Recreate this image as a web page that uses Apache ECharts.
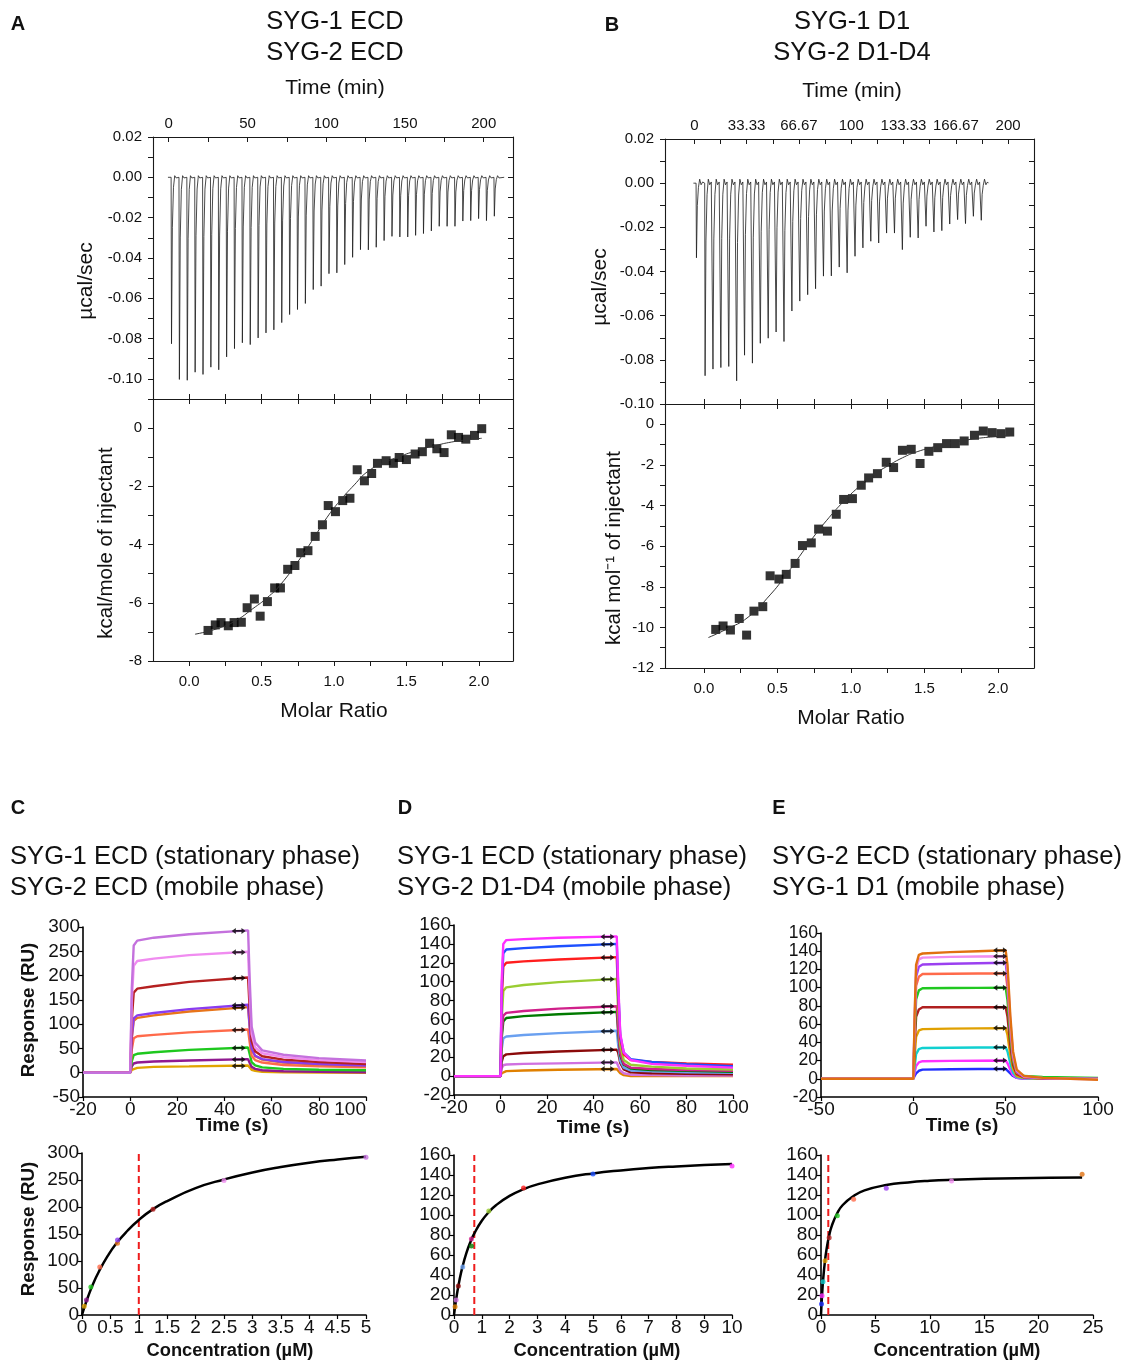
<!DOCTYPE html>
<html><head><meta charset="utf-8">
<script src="https://cdn.jsdelivr.net/npm/echarts@6/dist/echarts.min.js"></script>
<style>html,body{margin:0;padding:0;background:#fff}#c{width:1127px;height:1360px}</style>
</head><body><div id="c"></div>
<script>
const FONT = '"Liberation Sans", Arial, Helvetica, sans-serif';

// ================= Panel A : ITC, SYG-1 ECD / SYG-2 ECD =================
const A_timeLabels = [0, 50, 100, 150, 200];
const A_timeTicks = [0, 25, 50, 75, 100, 125, 150, 175, 200];
const A_powerLabels = [0.02, 0, -0.02, -0.04, -0.06, -0.08, -0.10];
const A_powerTicks = [0.02, 0.01, 0, -0.01, -0.02, -0.03, -0.04, -0.05, -0.06, -0.07, -0.08, -0.09, -0.10];
const A_firstInjection = 1.5, A_injectionSpacing = 5;
const A_peakDepths = [-0.0826, -0.1003, -0.1007, -0.0967, -0.0978, -0.0942, -0.0955, -0.0891, -0.0850, -0.0821,
  -0.0830, -0.0797, -0.0772, -0.0757, -0.0721, -0.0681, -0.0656, -0.0626, -0.0557, -0.0540,
  -0.0478, -0.0474, -0.0433, -0.0397, -0.0359, -0.0360, -0.0347, -0.0314, -0.0293, -0.0296,
  -0.0296, -0.0288, -0.0279, -0.0266, -0.0243, -0.0243, -0.0243, -0.0217, -0.0215, -0.0205,
  -0.0215, -0.0193];
const A_heatLabels = [0, -2, -4, -6, -8];
const A_heatTicks = [1, 0, -1, -2, -3, -4, -5, -6, -7, -8];
const A_molarLabels = [0, 0.5, 1, 1.5, 2];
const A_molarTicks = [0, 0.25, 0.5, 0.75, 1, 1.25, 1.5, 1.75, 2];
const A_molar = [0.13,0.18,0.22,0.27,0.31,0.36,0.40,0.45,0.49,0.54,0.59,0.63,0.68,0.73,0.77,0.82,0.87,0.92,0.96,1.01,
  1.06,1.11,1.16,1.21,1.26,1.30,1.36,1.41,1.45,1.50,1.56,1.61,1.66,1.71,1.76,1.81,1.86,1.91,1.97,2.02];
const A_heat = [-6.95,-6.76,-6.68,-6.79,-6.68,-6.67,-6.17,-5.87,-6.46,-5.96,-5.49,-5.49,-4.85,-4.72,-4.28,-4.21,-3.72,-3.32,-2.66,-2.87,
  -2.49,-2.41,-1.43,-1.81,-1.56,-1.21,-1.12,-1.21,-1.01,-1.08,-0.89,-0.81,-0.52,-0.71,-0.84,-0.23,-0.32,-0.38,-0.25,-0.02];
const A_fitMolar = [0.04, 0.2, 0.32, 0.44, 0.54, 0.63, 0.77, 0.86, 0.95, 1.04, 1.14, 1.23, 1.34, 1.45, 1.58, 1.7, 1.81, 1.92, 2.02];
const A_fitHeat = [-7.08, -6.88, -6.62, -6.2, -5.82, -5.38, -4.45, -3.78, -3.08, -2.5, -1.95, -1.5, -1.2, -0.98, -0.76, -0.6, -0.48, -0.4, -0.35];

// ================= Panel B : ITC, SYG-1 D1 / SYG-2 D1-D4 =================
const B_timeLabels = [0, 33.3333, 66.6667, 100, 133.3333, 166.6667, 200];
const B_timeTicks = [0, 16.6667, 33.3333, 50, 66.6667, 83.3333, 100, 116.6667, 133.3333, 150, 166.6667, 183.3333, 200];
const B_powerLabels = [0.02, 0, -0.02, -0.04, -0.06, -0.08, -0.10];
const B_powerTicks = [0.02, 0.01, 0, -0.01, -0.02, -0.03, -0.04, -0.05, -0.06, -0.07, -0.08, -0.09, -0.10];
const B_firstInjection = 1.1, B_secondInjection = 6.6, B_injectionSpacing = 5.03;
const B_peakDepths = [-0.0338, -0.0872, -0.0842, -0.0835, -0.0830, -0.0895, -0.0779, -0.0815, -0.0725, -0.0702,
  -0.0674, -0.0717, -0.0579, -0.0534, -0.0505, -0.0478, -0.0421, -0.0420, -0.0380, -0.0406,
  -0.0331, -0.0293, -0.0263, -0.0271, -0.0226, -0.0226, -0.0301, -0.0245, -0.0248, -0.0195,
  -0.0221, -0.0215, -0.0185, -0.0165, -0.0183, -0.0150, -0.0168];
const B_heatLabels = [0, -2, -4, -6, -8, -10, -12];
const B_heatTicks = [1, 0, -1, -2, -3, -4, -5, -6, -7, -8, -9, -10, -11, -12];
const B_molarLabels = [0, 0.5, 1, 1.5, 2];
const B_molarTicks = [0, 0.25, 0.5, 0.75, 1, 1.25, 1.5, 1.75, 2];
const B_molar = [0.08,0.13,0.18,0.24,0.29,0.34,0.40,0.45,0.51,0.56,0.62,0.67,0.73,0.78,0.84,0.90,0.95,1.01,1.07,1.12,
  1.18,1.24,1.29,1.35,1.41,1.47,1.53,1.59,1.65,1.71,1.77,1.84,1.90,1.96,2.02,2.08];
const B_heat = [-10.10,-9.93,-10.13,-9.56,-10.38,-9.20,-8.98,-7.46,-7.62,-7.39,-6.85,-5.97,-5.84,-5.16,-5.26,-4.43,-3.70,-3.66,-3.00,-2.64,
  -2.43,-1.87,-2.13,-1.28,-1.23,-1.93,-1.33,-1.15,-0.95,-0.95,-0.82,-0.54,-0.33,-0.41,-0.46,-0.38];
const B_fitMolar = [0.03, 0.15, 0.3, 0.45, 0.55, 0.65, 0.75, 0.85, 0.95, 1.05, 1.15, 1.25, 1.35, 1.45, 1.6, 1.75, 1.9, 2.08];
const B_fitHeat = [-10.5, -10.1, -9.5, -8.4, -7.5, -6.5, -5.5, -4.6, -3.8, -3.1, -2.5, -2.05, -1.65, -1.35, -1.05, -0.82, -0.66, -0.56];

// ================= Panel C : SPR, SYG-1 ECD / SYG-2 ECD =================
const C_time = [-20, 0, 0.7, 1.5, 3, 10, 25, 50, 50.7, 51.5, 53, 56, 65, 80, 100];
const C_colors = ['#e0a400', '#901a90', '#1ec81e', '#ff6a4a', '#e8751a', '#8a3cf0', '#b52020', '#f08cf0', '#c471dd'];
const C_curves = [
  [0, 0, 6, 9, 10, 12, 13, 15, 11, 6, 4, 2, 1, 0.5, 0],
  [0, 0, 13, 19, 21, 23, 25, 28, 20, 12, 8, 5, 3, 2, 1],
  [0, 0, 24, 36, 39, 42, 47, 52, 38, 22, 15, 11, 8, 6, 5],
  [0, 0, 48, 71, 75, 78, 83, 89, 62, 35, 26, 21, 16, 13, 11],
  [0, 0, 72, 107, 113, 118, 126, 135, 92, 48, 34, 27, 21, 17, 14],
  [0, 0, 75, 112, 118, 123, 131, 140, 95, 50, 35, 28, 22, 18, 15],
  [0, 0, 110, 165, 173, 178, 187, 196, 130, 65, 44, 34, 27, 22, 18],
  [0, 0, 150, 220, 230, 235, 242, 249, 160, 80, 52, 40, 32, 26, 22],
  [0, 0, 175, 262, 272, 278, 285, 293, 190, 95, 62, 46, 37, 30, 25]
];
const C_arrowTime = 46;
const C_arrowLevels = [14, 27, 51, 88, 134, 139, 195, 248, 292];
const C_conc = [0.039, 0.078, 0.156, 0.3125, 0.625, 0.625, 1.25, 2.5, 5];
const C_resp = [16, 28, 52, 89, 133, 139, 196, 249, 292];
const C_fitConc = [0, 0.05, 0.1, 0.2, 0.3, 0.45, 0.6, 0.8, 1.0, 1.25, 1.5, 2.0, 2.5, 3.0, 3.5, 4.0, 4.5, 5.0];
const C_fitResp = [0, 17, 32, 59, 81, 109, 132, 156, 176, 196, 211, 235, 251, 264, 274, 282, 288, 293];
const C_kd = 1.0, C_kdTop = 300;

// ================= Panel D : SPR, SYG-1 ECD / SYG-2 D1-D4 =================
const D_time = [-20, 0, 0.5, 1.2, 2.5, 10, 25, 50, 50.6, 51.5, 53, 56, 65, 80, 100];
const D_colors = ['#e08000', '#d070e0', '#8b0a0a', '#6aa0f0', '#007a00', '#d0208a', '#9acd32', '#ff1e1e', '#1e50ff', '#ff30ff'];
const D_curves = [
  [0, 0, 3, 5, 5.3, 6, 6.8, 7.5, 6, 3, 1, 0, 0, 0, 0],
  [0, 0, 8, 11.5, 12.3, 13, 13.5, 14.5, 11, 6, 3, 1.5, 1, 0.5, 0.5],
  [0, 0, 15, 21, 23, 24.5, 26, 28, 25, 14, 7, 4, 3, 2.5, 2],
  [0, 0, 28, 40, 42, 43.5, 45.5, 48, 33, 16, 9, 6, 5, 4, 3.5],
  [0, 0, 40, 58, 61.5, 63.5, 65.5, 68, 47, 22, 12, 8, 6.5, 5.5, 4.5],
  [0, 0, 45, 64, 67, 69, 71.5, 74, 50, 24, 13, 9, 7.5, 6.5, 5.5],
  [0, 0, 60, 90, 94, 96.5, 99.5, 103, 70, 33, 17, 12, 10, 8, 7],
  [0, 0, 80, 116, 120, 121.5, 123.5, 126, 85, 40, 23, 17, 15, 13.5, 12],
  [0, 0, 90, 130, 134, 135.5, 137.5, 140, 95, 43, 25, 18, 15, 12.5, 10.5],
  [0, 0, 100, 140, 144, 145, 146.5, 148, 100, 45, 25, 17, 13, 11, 9]
];
const D_arrowTime = 46;
const D_arrowLevels = [7.5, 14.5, 28, 47.5, 67.5, 74, 102.5, 125.5, 139.5, 147.5];
const D_conc = [0.039, 0.078, 0.156, 0.3125, 0.625, 0.625, 1.25, 2.5, 5, 10];
const D_resp = [8.3, 15, 29, 48, 69, 76, 104, 127, 141, 149];
const D_fitConc = [0, 0.05, 0.1, 0.2, 0.3, 0.45, 0.6, 0.75, 1.0, 1.25, 1.5, 2, 2.5, 3, 4, 5, 6, 7, 8, 9, 10];
const D_fitResp = [0, 10.5, 19.8, 35.2, 47.6, 62.3, 73.6, 82.6, 94.2, 102.8, 109.5, 119.1, 125.8, 130.6, 137.3, 141.6, 144.6, 146.9, 148.6, 150, 151.1];
const D_kd = 0.73, D_kdTop = 160;

// ================= Panel E : SPR, SYG-2 ECD / SYG-1 D1 =================
const E_time = [-50, 0, 0.7, 1.5, 3, 5, 20, 35, 50, 51, 52.5, 54, 56, 60, 70, 85, 100];
const E_colors = ['#2030ff', '#ff30ff', '#10d0d0', '#e0a000', '#b02020', '#20c820', '#ff6a4a', '#9b40f0', '#f08cf0', '#e07010'];
const E_curves = [
  [0, 0, 3, 6, 8.8, 10, 10.4, 10.7, 10.9, 10, 6, 3, 1, 0, 0, 0, 0],
  [0, 0, 7, 14, 18, 19.3, 19.6, 19.8, 20, 17, 10, 4, 1, 0, 0, 0, 0],
  [0, 0, 13, 27, 32.5, 33.8, 34.1, 34.3, 34.5, 30, 17, 7, 2, 0.5, 0, 0, 0],
  [0, 0, 24, 46, 53, 54.5, 55, 55.3, 55.6, 48, 26, 11, 3, 1, 0, 0, 0],
  [0, 0, 35, 68, 76, 78.5, 78.5, 78.5, 78.5, 68, 37, 15, 5, 1.5, 0.5, 0, 0],
  [0, 0, 46, 87, 97, 99.3, 99.6, 99.8, 100, 86, 47, 19, 7, 3, 2, 1.5, 1],
  [0, 0, 55, 102, 112, 115, 115.3, 115.5, 115.6, 100, 55, 22, 7, 2, 0.5, 0, 0],
  [0, 0, 60, 112, 123, 125.5, 126.3, 126.8, 127.3, 110, 60, 25, 8, 2, 0.5, 0, 0],
  [0, 0, 66, 120, 131, 133, 133.8, 134.2, 134.5, 118, 65, 27, 9, 2.5, 1, 0, -0.5],
  [0, 0, 70, 125, 136, 137.5, 139, 140, 141, 125, 70, 30, 10, 3, 1, 0, -1]
];
const E_arrowTime = 47;
const E_arrowLevels = [10.9, 20, 34.5, 55.6, 78.5, 100, 115.6, 127.3, 134.5, 141];
const E_conc = [0.047, 0.094, 0.1875, 0.375, 0.75, 1.5, 3, 6, 12, 24];
const E_resp = [11, 19.3, 33.3, 54.3, 77.3, 99.3, 115.7, 126.7, 134, 140.7];
const E_fitConc = [0, 0.05, 0.1, 0.2, 0.35, 0.5, 0.75, 1.0, 1.5, 2, 3, 4, 6, 8, 10, 12, 15, 18, 21, 24];
const E_fitResp = [0, 11, 20.4, 35.7, 52.7, 65, 79.4, 89.4, 102, 110, 119, 124.6, 130, 132.6, 134.2, 135.2, 136.2, 136.8, 137.2, 137.5];
const E_kd = 0.67, E_kdTop = 160;

// ================= builders =================
const grids = [], xAxis = [], yAxis = [], series = [], graphic = [];
function addGrid(left, top, width, height) {
  grids.push({ left, top, width, height, containLabel: false, outerBoundsMode: 'none' });
  return grids.length - 1;
}
function push(list, cfg) { list.push(cfg); return list.length - 1; }

function itcAxis(gi, position, min, max, ticks, inside, labels, fmt, margin) {
  return {
    type: 'value', gridIndex: gi, position, min, max,
    axisLine: { show: true, onZero: false, lineStyle: { color: '#1a1a1a', width: 1.1 } },
    axisTick: { show: true, inside, length: 5, customValues: ticks, lineStyle: { color: '#1a1a1a', width: 1 } },
    axisLabel: labels ? { show: true, customValues: labels, formatter: fmt, fontFamily: FONT, fontSize: 15, color: '#111', margin: margin || 7 } : { show: false },
    splitLine: { show: false }, axisPointer: { show: false }
  };
}
const fmt2 = v => v.toFixed(2);
const fmt1 = v => v.toFixed(1);
const fmtInt = v => String(Math.round(v));
const fmtTimeB = v => Math.abs(v - Math.round(v)) < 1e-3 ? String(Math.round(v)) : v.toFixed(2);

function thermo(times, depths, tStart, tEnd, bump) {
  const d = [[tStart, 0]];
  depths.forEach((p, i) => {
    const t = times[i];
    d.push([t, 0], [t + 0.25, p], [t + 0.8, p * 0.3], [t + 1.5, p * 0.06], [t + 2.3, bump], [t + 3.2, -bump * 0.4], [t + 4.2, bump * 0.3]);
  });
  d.push([tEnd, 0]);
  return d;
}

function buildITC(cfg) {
  const gTop = addGrid(cfg.left, cfg.top, cfg.width, cfg.hTop);
  const gBot = addGrid(cfg.left, cfg.top + cfg.hTop, cfg.width, cfg.hBot);
  const xTime = push(xAxis, itcAxis(gTop, 'top', cfg.tMin, cfg.tMax, cfg.timeTicks, true, cfg.timeLabels, cfg.timeFmt, 6));
  push(xAxis, itcAxis(gTop, 'bottom', cfg.mMin, cfg.mMax, cfg.molarTicks, true, null));
  const yPow = push(yAxis, itcAxis(gTop, 'left', cfg.pMin, cfg.pMax, cfg.powerTicks, false, cfg.powerLabels, fmt2, 11));
  push(yAxis, itcAxis(gTop, 'right', cfg.pMin, cfg.pMax, cfg.powerTicks, true, null));
  const xMol = push(xAxis, itcAxis(gBot, 'bottom', cfg.mMin, cfg.mMax, cfg.molarTicks, false, cfg.molarLabels, fmt1, 13));
  push(xAxis, itcAxis(gBot, 'top', cfg.mMin, cfg.mMax, cfg.molarTicks, true, null));
  const yHeat = push(yAxis, itcAxis(gBot, 'left', cfg.hMin, cfg.hMax, cfg.heatTicks, false, cfg.heatLabels, fmtInt, 11));
  push(yAxis, itcAxis(gBot, 'right', cfg.hMin, cfg.hMax, cfg.heatTicks, true, null));

  series.push({ type: 'line', xAxisIndex: xTime, yAxisIndex: yPow, showSymbol: false, silent: true,
    data: thermo(cfg.times, cfg.depths, cfg.tStart, cfg.tEnd, cfg.bump),
    lineStyle: { color: '#1c1c1c', width: 0.8 } });
  series.push({ type: 'line', xAxisIndex: xMol, yAxisIndex: yHeat, showSymbol: false, smooth: true, silent: true,
    data: cfg.fitX.map((x, i) => [x, cfg.fitY[i]]), lineStyle: { color: '#333', width: 1 } });
  series.push({ type: 'scatter', xAxisIndex: xMol, yAxisIndex: yHeat, symbol: 'rect', symbolSize: 9, silent: true,
    data: cfg.molar.map((x, i) => [x, cfg.heat[i]]), itemStyle: { color: '#000' } });
}

buildITC({
  left: 153, top: 137, width: 360, hTop: 262, hBot: 262,
  tMin: -10, tMax: 218.6, mMin: -0.25, mMax: 2.236, pMin: -0.11, pMax: 0.02, hMin: -8, hMax: 1,
  timeTicks: A_timeTicks, timeLabels: A_timeLabels, timeFmt: fmtInt,
  molarTicks: A_molarTicks, molarLabels: A_molarLabels,
  powerTicks: A_powerTicks, powerLabels: A_powerLabels,
  heatTicks: A_heatTicks, heatLabels: A_heatLabels,
  times: A_peakDepths.map((_, i) => A_firstInjection + A_injectionSpacing * i),
  depths: A_peakDepths, tStart: -0.5, tEnd: 213, bump: 0.0008,
  molar: A_molar, heat: A_heat, fitX: A_fitMolar, fitY: A_fitHeat
});
buildITC({
  left: 665, top: 139, width: 369, hTop: 265, hBot: 264,
  tMin: -18.7, tMax: 216.5, mMin: -0.265, mMax: 2.245, pMin: -0.10, pMax: 0.02, hMin: -12, hMax: 1,
  timeTicks: B_timeTicks, timeLabels: B_timeLabels, timeFmt: fmtTimeB,
  molarTicks: B_molarTicks, molarLabels: B_molarLabels,
  powerTicks: B_powerTicks, powerLabels: B_powerLabels,
  heatTicks: B_heatTicks, heatLabels: B_heatLabels,
  times: B_peakDepths.map((_, i) => i === 0 ? B_firstInjection : B_secondInjection + B_injectionSpacing * (i - 1)),
  depths: B_peakDepths, tStart: -0.6, tEnd: 187.4, bump: 0.0018,
  molar: B_molar, heat: B_heat, fitX: B_fitMolar, fitY: B_fitHeat
});

function sprAxis(gi, position, min, max, interval, alignMax, fontSize) {
  const lab = { fontFamily: FONT, fontSize: fontSize || 19, color: '#111', margin: 3, interval: 0, hideOverlap: false,
    showMinLabel: true, showMaxLabel: true };
  if (alignMax) lab.alignMaxLabel = 'right';
  return {
    type: 'value', gridIndex: gi, position, min, max, interval,
    axisLine: { show: true, onZero: false, lineStyle: { color: '#000', width: 1.6 } },
    axisTick: { show: true, inside: false, length: 4, lineStyle: { color: '#000', width: 1.2 } },
    axisLabel: lab,
    splitLine: { show: false }, axisPointer: { show: false }
  };
}
const ARROW = 'path://M0,5L6,0L6,3.5L14,3.5L14,0L20,5L14,10L14,6.5L6,6.5L6,10Z';

function buildSPR(cfg) {
  const gT = addGrid(cfg.top.left, cfg.top.top, cfg.top.width, cfg.top.height);
  const gB = addGrid(cfg.bot.left, cfg.bot.top, cfg.bot.width, cfg.bot.height);
  const xt = push(xAxis, sprAxis(gT, 'bottom', cfg.top.xMin, cfg.top.xMax, cfg.top.xInt, cfg.top.alignMax));
  const yt = push(yAxis, sprAxis(gT, 'left', cfg.top.yMin, cfg.top.yMax, cfg.top.yInt, false, cfg.top.yFont));
  const xb = push(xAxis, sprAxis(gB, 'bottom', cfg.bot.xMin, cfg.bot.xMax, cfg.bot.xInt));
  const yb = push(yAxis, sprAxis(gB, 'left', cfg.bot.yMin, cfg.bot.yMax, cfg.bot.yInt));
  cfg.curves.forEach((vals, k) => {
    series.push({ type: 'line', xAxisIndex: xt, yAxisIndex: yt, showSymbol: false, silent: true,
      data: cfg.time.map((t, j) => [t, vals[j]]), lineStyle: { color: cfg.colors[k], width: 2.4 } });
  });
  series.push({ type: 'scatter', xAxisIndex: xt, yAxisIndex: yt, symbol: ARROW, symbolSize: [14, 6], silent: true,
    data: cfg.arrowLevels.map(v => [cfg.arrowTime, v]), itemStyle: { color: '#000' }, z: 5 });
  series.push({ type: 'line', xAxisIndex: xb, yAxisIndex: yb, showSymbol: false, silent: true,
    data: [[cfg.kd, 0], [cfg.kd, cfg.kdTop]], lineStyle: { color: '#ee1c1c', width: 2, type: [7, 4] } });
  series.push({ type: 'line', xAxisIndex: xb, yAxisIndex: yb, showSymbol: false, smooth: true, silent: true,
    data: cfg.fitConc.map((c, i) => [c, cfg.fitResp[i]]), lineStyle: { color: '#000', width: 2.5 } });
  series.push({ type: 'scatter', xAxisIndex: xb, yAxisIndex: yb, symbolSize: 5, silent: true, z: 5,
    data: cfg.conc.map((c, i) => ({ value: [c, cfg.resp[i]], itemStyle: { color: cfg.dotColors[i] } })) });
}

buildSPR({
  top: { left: 83, top: 927, width: 283, height: 170, xMin: -20, xMax: 100, xInt: 20, yMin: -50, yMax: 300, yInt: 50, alignMax: true },
  bot: { left: 82, top: 1153, width: 284, height: 162, xMin: 0, xMax: 5, xInt: 0.5, yMin: 0, yMax: 300, yInt: 50 },
  time: C_time, curves: C_curves, colors: C_colors, arrowTime: C_arrowTime, arrowLevels: C_arrowLevels,
  conc: C_conc, resp: C_resp,
  dotColors: ['#e0a400', '#901a90', '#1ec81e', '#ff6a4a', '#e8751a', '#8a3cf0', '#b52020', '#f08cf0', '#c471dd'],
  fitConc: C_fitConc, fitResp: C_fitResp, kd: C_kd, kdTop: C_kdTop
});
buildSPR({
  top: { left: 454, top: 925, width: 279, height: 170, xMin: -20, xMax: 100, xInt: 20, yMin: -20, yMax: 160, yInt: 20 },
  bot: { left: 454, top: 1155, width: 278, height: 160, xMin: 0, xMax: 10, xInt: 1, yMin: 0, yMax: 160, yInt: 20 },
  time: D_time, curves: D_curves, colors: D_colors, arrowTime: D_arrowTime, arrowLevels: D_arrowLevels,
  conc: D_conc, resp: D_resp, dotColors: D_colors,
  fitConc: D_fitConc, fitResp: D_fitResp, kd: D_kd, kdTop: D_kdTop
});
buildSPR({
  top: { left: 821, top: 933, width: 277, height: 164, xMin: -50, xMax: 100, xInt: 50, yMin: -20, yMax: 160, yInt: 20, yFont: 17.5 },
  bot: { left: 821, top: 1155, width: 272, height: 160, xMin: 0, xMax: 25, xInt: 5, yMin: 0, yMax: 160, yInt: 20 },
  time: E_time, curves: E_curves, colors: E_colors, arrowTime: E_arrowTime, arrowLevels: E_arrowLevels,
  conc: E_conc, resp: E_resp, dotColors: E_colors,
  fitConc: E_fitConc, fitResp: E_fitResp, kd: E_kd, kdTop: E_kdTop
});

// ================= text =================
function txt(text, x, y, size, o) {
  o = o || {};
  const al = o.align || 'center';
  graphic.push({ type: 'text', x, y, rotation: o.rot ? Math.PI / 2 : 0, silent: true, z: 10,
    style: { text, fontSize: size, fontFamily: FONT, fontWeight: o.bold ? 'bold' : 'normal', fill: '#111',
      align: al, textAlign: al, verticalAlign: 'middle', textVerticalAlign: 'middle' } });
}
txt('A', 18, 24, 20, { bold: true });
txt('SYG-1 ECD', 335, 22, 25.5);
txt('SYG-2 ECD', 335, 53, 25.5);
txt('Time (min)', 335, 88, 21);
txt('µcal/sec', 86, 281, 21, { rot: true });
txt('kcal/mole of injectant', 106, 543, 20.5, { rot: true });
txt('Molar Ratio', 334, 711, 21);
txt('B', 612, 25, 20, { bold: true });
txt('SYG-1 D1', 852, 22, 25.5);
txt('SYG-2 D1-D4', 852, 53, 25.5);
txt('Time (min)', 852, 91, 21);
txt('µcal/sec', 600, 287, 21, { rot: true });
txt('kcal mol⁻¹ of injectant', 614, 548, 20.5, { rot: true });
txt('Molar Ratio', 851, 718, 21);

txt('C', 18, 808, 20, { bold: true });
txt('SYG-1 ECD (stationary phase)', 10, 857, 25.6, { align: 'left' });
txt('SYG-2 ECD (mobile phase)', 10, 888, 25.6, { align: 'left' });
txt('D', 405, 808, 20, { bold: true });
txt('SYG-1 ECD (stationary phase)', 397, 857, 25.6, { align: 'left' });
txt('SYG-2 D1-D4 (mobile phase)', 397, 888, 25.6, { align: 'left' });
txt('E', 779, 808, 20, { bold: true });
txt('SYG-2 ECD (stationary phase)', 772, 857, 25.6, { align: 'left' });
txt('SYG-1 D1 (mobile phase)', 772, 888, 25.6, { align: 'left' });
txt('Time (s)', 232, 1126, 19, { bold: true });
txt('Time (s)', 593, 1128, 19, { bold: true });
txt('Time (s)', 962, 1126, 19, { bold: true });
txt('Concentration (µM)', 230, 1351, 18.3, { bold: true });
txt('Concentration (µM)', 597, 1351, 18.3, { bold: true });
txt('Concentration (µM)', 957, 1351, 18.3, { bold: true });
txt('Response (RU)', 29, 1010, 18.8, { bold: true, rot: true });
txt('Response (RU)', 29, 1229, 18.8, { bold: true, rot: true });

const chart = echarts.init(document.getElementById('c'), null, { renderer: 'canvas' });
chart.setOption({
  animation: false, backgroundColor: '#fff',
  grid: grids, xAxis, yAxis, series, graphic
});
</script></body></html>
